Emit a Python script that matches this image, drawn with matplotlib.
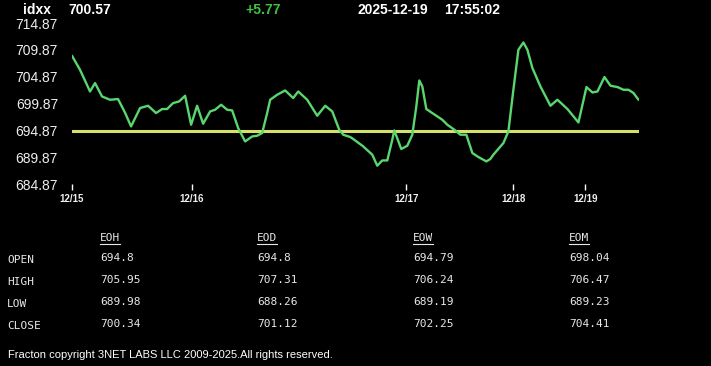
import matplotlib.pyplot as plt
from matplotlib.lines import Line2D

# intraday samples (index) and price
sample_idx = [0, 8, 18, 23, 30, 38, 46, 53, 59, 68, 76, 84, 90, 95, 101, 107, 113, 119,
              125, 131, 138, 143, 149, 155, 160, 166, 173, 180, 185, 190, 195, 198, 205,
              213, 221, 226, 235, 245, 253, 260, 267, 271, 278, 281, 291, 300, 305, 310,
              315, 320, 322, 329, 335, 340, 344, 347, 350, 354, 361, 370, 375, 383, 388,
              394, 400, 406, 414, 418, 421, 431, 436, 441, 446, 451, 455, 460, 468, 478,
              485, 495, 506, 514, 520, 525, 532, 538, 545, 551, 556, 561, 566]
price = [708.76, 706.15, 702.11, 703.68, 701.18, 700.57, 700.70, 698.15, 695.60, 699.02,
         699.45, 698.09, 698.84, 698.84, 699.95, 700.25, 701.31, 695.91, 699.45, 696.10,
         698.39, 698.71, 699.64, 698.71, 698.58, 695.30, 692.80, 693.73, 693.86, 694.37,
         698.09, 700.57, 701.50, 702.30, 700.88, 702.11, 700.57, 697.59, 699.45, 698.39,
         694.98, 694.05, 693.62, 693.25, 691.87, 690.33, 688.28, 689.26, 689.26, 693.12,
         694.85, 691.39, 692.00, 694.05, 699.32, 704.16, 703.05, 698.84, 697.96, 696.84,
         695.91, 694.85, 694.05, 694.05, 690.64, 689.90, 689.08, 689.53, 690.33, 692.50,
         694.67, 702.43, 709.88, 711.24, 709.88, 706.47, 703.05, 699.45, 700.57, 698.84,
         696.34, 702.93, 701.93, 702.11, 704.80, 703.18, 702.93, 702.43, 702.43, 701.82,
         700.57]
open_price = 694.80

day_ticks = [0, 120, 334, 441, 513]
day_labels = ['12/15', '12/16', '12/17', '12/18', '12/19']
y_ticks = [684.87, 689.87, 694.87, 699.87, 704.87, 709.87, 714.87]

symbol = 'idxx'
last = '700.57'
change = '+5.77'
date_str = '2025-12-19'
time_str = '17:55:02'

col_names = ['EOH', 'EOD', 'EOW', 'EOM']
row_names = ['OPEN', 'HIGH', 'LOW', 'CLOSE']
eoh = ['694.8', '705.95', '689.98', '700.34']
eod = ['694.8', '707.31', '688.26', '701.12']
eow = ['694.79', '706.24', '689.19', '702.25']
eom = ['698.04', '706.47', '689.23', '704.41']

W, H = 711, 366
fig = plt.figure(figsize=(W / 100, H / 100), dpi=100, facecolor='black')
ax = fig.add_axes([72 / W, (H - 184) / H, 566.5 / W, 161 / H], facecolor='black')

ax.plot(sample_idx, price, color='#5ad66e', lw=1.7, solid_joinstyle='round',
        solid_capstyle='round', zorder=3)
ax.axhline(open_price, color='#d6df6c', lw=2.2, zorder=2)

ax.set_xlim(sample_idx[0], sample_idx[-1])
ax.set_ylim(y_ticks[0], y_ticks[-1])
for s in ax.spines.values():
    s.set_visible(False)

ax.set_yticks(y_ticks)
ax.set_yticklabels([f'{v:.2f}' for v in y_ticks], fontsize=10,
                   family='Liberation Sans', color='#eeeeee')
ax.tick_params(axis='y', length=0, pad=10)
ax.set_xticks(day_ticks)
ax.set_xticklabels(day_labels, fontsize=7, fontweight='bold',
                   family='Liberation Sans', color='#f0f0f0')
ax.tick_params(axis='x', length=4, width=1, color='white', direction='out', pad=3)


def px(x, y, s, **kw):
    return fig.text(x / W, 1 - y / H, s, va='center', ha='left', **kw)


hdr = dict(fontsize=10, fontweight='bold', family='Liberation Sans')
px(23, 9.5, symbol, color='white', **hdr)
px(68, 9.5, last, color='white', **hdr)
px(245, 9.5, change, color='#3fc23f', **hdr)
px(357, 9.5, date_str, color='white', **hdr)
px(444, 9.5, time_str, color='white', **hdr)

mono = dict(fontsize=8, family='DejaVu Sans Mono', color='#e8e8e8')
col_x = [100, 257, 413, 569]
row_y = [259, 281, 303, 325]
fig.canvas.draw()
renderer = fig.canvas.get_renderer()
for cx, name, vals in zip(col_x, col_names, [eoh, eod, eow, eom]):
    t = px(cx, 238, name, **mono)
    bb = t.get_window_extent(renderer)
    fig.add_artist(Line2D([bb.x0 / W, bb.x1 / W], [(bb.y0 - 1) / H] * 2,
                          color='#e8e8e8', lw=0.8))
    for ry, v in zip(row_y, vals):
        px(cx, ry - 1, v, **mono)
for ry, name in zip(row_y, row_names):
    px(7, ry + 1, name, **mono)

px(8, 355, 'Fracton copyright 3NET LABS LLC 2009-2025.All rights reserved.',
   fontsize=8, family='Liberation Sans', color='white')

fig.savefig('out.png', dpi=100, facecolor='black')
